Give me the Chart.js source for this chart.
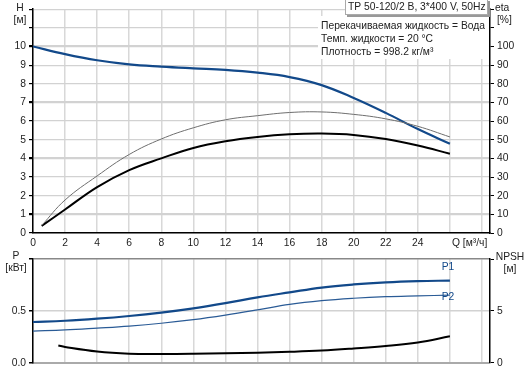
<!DOCTYPE html>
<html lang="ru">
<head>
<meta charset="UTF-8">
<title>TP 50-120/2 B</title>
<style>
  body { margin: 0; background: #fff; }
  #wrap { position: relative; width: 530px; height: 372px; }
  .box { position: absolute; left: 0; width: 530px; }
</style>
</head>
<body>
<div id="wrap">
  <div class="box" style="top:0;height:250px"><canvas id="top"></canvas></div>
  <div class="box" style="top:250px;height:122px"><canvas id="bottom"></canvas></div>
</div>
<script src="https://cdn.jsdelivr.net/npm/chart.js"></script>
<script>
// --- data ---
const qHead = [0, 2, 4, 6, 8, 10, 12, 14, 16, 18, 20, 22, 24, 26];
const head = [10.0, 9.59, 9.26, 9.04, 8.92, 8.83, 8.75, 8.6, 8.36, 7.93, 7.24, 6.44, 5.57, 4.78];

const qEta = [0.54, 2, 4, 6, 8, 10, 12, 14, 16, 18, 20, 22, 24, 26];
const etaThin = [4, 17.7, 30.6, 42.1, 50.4, 56.4, 60.7, 62.9, 64.6, 64.9, 63.6, 61.2, 57.2, 51.5];
const qEtaTot = [0.54, 2, 4, 6, 8, 10, 12, 14, 16, 18, 20, 22, 24, 26];
const etaTot = [3.8, 12.6, 24.6, 33.7, 40.0, 45.6, 49.2, 51.5, 52.9, 53.3, 52.6, 50.4, 46.9, 42.5];

const qPow = [0, 2, 4, 6, 8, 10, 12, 14, 16, 18, 20, 22, 24, 26];
const p1 = [0.394, 0.406, 0.426, 0.452, 0.485, 0.526, 0.576, 0.632, 0.68, 0.726, 0.756, 0.776, 0.788, 0.794];
const p2 = [0.306, 0.317, 0.335, 0.355, 0.382, 0.417, 0.461, 0.511, 0.564, 0.6, 0.623, 0.638, 0.646, 0.653];

const qNpsh = [1.58, 2, 4, 6, 8, 10, 12, 14, 16, 18, 20, 22, 24, 26];
const npsh = [1.68, 1.53, 1.09, 0.88, 0.85, 0.87, 0.92, 0.98, 1.06, 1.18, 1.38, 1.62, 1.97, 2.56];

const qMax = 28.5;
const blue = '#12498a';
const FONT = 'Liberation Sans, Arial, sans-serif';
const FS = 10.3;

Chart.defaults.font.family = FONT;
Chart.defaults.font.size = FS;
Chart.defaults.color = '#222';

function pts(xs, ys) { return xs.map((x, i) => ({ x: x, y: ys[i] })); }

function line(data, color, width, axis) {
  return {
    data: data, borderColor: color, borderWidth: width, pointRadius: 0,
    fill: false, tension: 0.4, yAxisID: axis || 'y'
  };
}

function fixWidth(w) { return function (s) { s.width = w; }; }
function fixHeight(h) { return function (s) { s.height = h; }; }

function text(ctx, str, x, y, align, color) {
  ctx.fillStyle = color || '#222';
  ctx.textAlign = align || 'left';
  ctx.textBaseline = 'middle';
  ctx.fillText(str, x, y);
}

const xGrid = { color: '#d8d8d8', lineWidth: 1.5, drawTicks: false };

// top: head + efficiency
const topLabels = {
  id: 'topLabels',
  afterDraw(chart) {
    const c = chart.ctx;
    c.save();
    c.font = FS + 'px ' + FONT;
    text(c, 'H', 20, 8, 'center');
    text(c, '[м]', 20, 20, 'center');
    text(c, 'eta', 495, 8);
    text(c, '[%]', 497, 20);
    text(c, 'Q [м³/ч]', 452, 243);

    // white block behind the fluid notes
    c.fillStyle = '#fff';
    c.fillRect(318, 16, 171, 43);
    text(c, 'Перекачиваемая жидкость = Вода', 321, 26);
    text(c, 'Темп. жидкости = 20 °C', 321, 39);
    text(c, 'Плотность = 998.2 кг/м³', 321, 52);

    // title box
    c.fillStyle = '#999';
    c.fillRect(347, 1, 143, 16);
    c.fillStyle = '#fff';
    c.fillRect(345, -1, 143, 16);
    c.strokeStyle = '#aaa';
    c.lineWidth = 1;
    c.strokeRect(345.5, -0.5, 142, 15);
    text(c, 'TP 50-120/2 B, 3*400 V, 50Hz', 348, 7.5);
    c.restore();
  }
};

new Chart(document.getElementById('top'), {
  type: 'line',
  data: {
    datasets: [
      line(pts(qEta, etaThin), '#6e6e6e', 1, 'y2'),
      line(pts(qEtaTot, etaTot), '#000', 2, 'y2'),
      line(pts(qHead, head), blue, 2.2, 'y')
    ]
  },
  options: {
    responsive: true, maintainAspectRatio: false, animation: false,
    layout: { padding: 0 },
    plugins: { legend: { display: false }, tooltip: { enabled: false } },
    scales: {
      x: {
        type: 'linear', min: 0, max: qMax,
        afterFit: fixHeight(17),
        border: { color: '#000', width: 1.5 },
        grid: xGrid,
        ticks: {
          stepSize: 2, padding: 4, maxRotation: 0, includeBounds: false,
          callback: v => (v <= 24 ? v : '')
        }
      },
      y: {
        position: 'left', min: 0, max: 12,
        afterFit: fixWidth(33),
        border: { color: '#000', width: 1.5 },
        grid: {
          color: '#d2d2d2', tickColor: '#000', tickLength: 4,
          lineWidth: ctx => (ctx.tick && ctx.tick.value % 3 === 1 ? 2.2 : 1.2)
        },
        ticks: { stepSize: 1, padding: 3, callback: v => (v <= 10 ? v : '') }
      },
      y2: {
        position: 'right', min: 0, max: 120,
        afterFit: fixWidth(40),
        border: { color: '#000', width: 1.5 },
        grid: { drawOnChartArea: false, tickColor: '#000', tickLength: 4 },
        ticks: { stepSize: 10, padding: 3, callback: v => (v <= 100 ? v : '') }
      }
    }
  },
  plugins: [topLabels]
});

// bottom: power + NPSH
const bottomLabels = {
  id: 'bottomLabels',
  afterDraw(chart) {
    const c = chart.ctx;
    c.save();
    c.font = FS + 'px ' + FONT;
    text(c, 'P', 16, 6, 'center');
    text(c, '[кВт]', 16, 18, 'center');
    text(c, 'NPSH', 510, 7, 'center');
    text(c, '[м]', 510, 19, 'center');
    text(c, 'P1', 448, 17, 'center', blue);
    text(c, 'P2', 448, 47, 'center', blue);
    c.restore();
  }
};

new Chart(document.getElementById('bottom'), {
  type: 'line',
  data: {
    datasets: [
      line(pts(qPow, p1), blue, 2.2, 'y'),
      line(pts(qPow, p2), '#2a5b96', 1.2, 'y'),
      line(pts(qNpsh, npsh), '#000', 2, 'y2')
    ]
  },
  options: {
    responsive: true, maintainAspectRatio: false, animation: false,
    layout: { padding: { top: 1 } },
    plugins: { legend: { display: false }, tooltip: { enabled: false } },
    scales: {
      x: {
        type: 'linear', min: 0, max: qMax,
        afterFit: fixHeight(7),
        border: { color: '#aaa', width: 2 },
        grid: xGrid,
        ticks: { display: false, stepSize: 2, includeBounds: false }
      },
      y: {
        position: 'left', min: 0, max: 1,
        afterFit: fixWidth(33),
        border: { color: '#000', width: 1.5 },
        grid: {
          tickColor: '#000', tickLength: 4, lineWidth: 1.5,
          color: ctx => (ctx.tick && ctx.tick.value === 1 ? '#888' : '#d2d2d2')
        },
        ticks: { stepSize: 0.5, padding: 3, callback: v => (v < 1 ? v.toFixed(1) : '') }
      },
      y2: {
        position: 'right', min: 0, max: 10,
        afterFit: fixWidth(40),
        border: { color: '#000', width: 1.5 },
        grid: { drawOnChartArea: false, tickColor: '#000', tickLength: 4 },
        ticks: { stepSize: 5, padding: 3, callback: v => (v < 10 ? v : '') }
      }
    }
  },
  plugins: [bottomLabels]
});
</script>
</body>
</html>
